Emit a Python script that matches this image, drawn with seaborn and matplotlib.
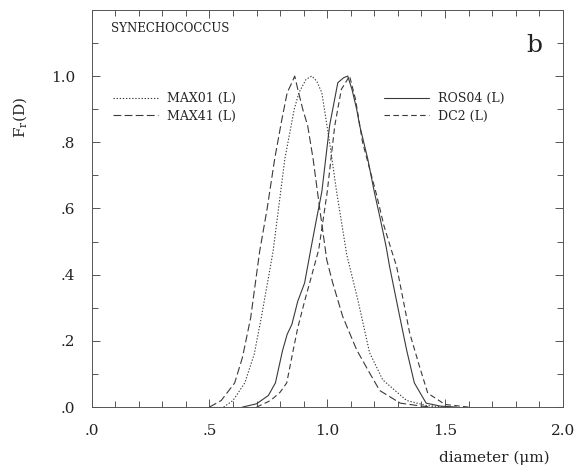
import numpy as np
import pandas as pd
import matplotlib
matplotlib.use("Agg")
import matplotlib.pyplot as plt
import seaborn as sns
from matplotlib.ticker import MultipleLocator, FixedLocator
from matplotlib.lines import Line2D

# ---- data ----
max41_x = [0.50, 0.55, 0.607, 0.64, 0.675, 0.713, 0.745, 0.777, 0.805, 0.83, 0.85, 0.862, 0.875,
           0.896, 0.917, 0.94, 0.968, 0.998, 1.023, 1.066, 1.125, 1.18, 1.223, 1.31, 1.40, 1.45]
max41_y = [0.0, 0.02, 0.073, 0.15, 0.27, 0.47, 0.6, 0.75, 0.86, 0.95, 0.98, 1.0, 0.96,
           0.9, 0.85, 0.75, 0.6, 0.445, 0.376, 0.273, 0.173, 0.103, 0.05, 0.012, 0.003, 0.0]

max01_x = [0.56, 0.60, 0.65, 0.69, 0.72, 0.77, 0.82, 0.86, 0.88, 0.91, 0.934, 0.955, 0.977,
           1.01, 1.04, 1.083, 1.13, 1.18, 1.236, 1.337, 1.42, 1.50]
max01_y = [0.0, 0.02, 0.073, 0.16, 0.27, 0.47, 0.75, 0.9, 0.95, 0.99, 1.0, 0.985, 0.95,
           0.8, 0.65, 0.46, 0.324, 0.164, 0.082, 0.02, 0.005, 0.0]

ros04_x = [0.64, 0.70, 0.75, 0.78, 0.81, 0.83, 0.85, 0.875, 0.904, 0.93, 0.955, 0.977, 1.01,
           1.045, 1.07, 1.087, 1.105, 1.125, 1.138, 1.172, 1.2, 1.223, 1.25, 1.265, 1.308,
           1.337, 1.37, 1.42, 1.48, 1.55]
ros04_y = [0.0, 0.01, 0.035, 0.073, 0.17, 0.22, 0.25, 0.32, 0.375, 0.476, 0.57, 0.65, 0.85,
           0.98, 0.995, 1.0, 0.96, 0.9, 0.85, 0.75, 0.65, 0.576, 0.485, 0.424, 0.273,
           0.173, 0.073, 0.012, 0.003, 0.0]

dc2_x = [0.70, 0.76, 0.80, 0.828, 0.855, 0.875, 0.904, 0.935, 0.964, 1.0, 1.032, 1.06, 1.095,
         1.12, 1.15, 1.18, 1.21, 1.24, 1.27, 1.295, 1.35, 1.393, 1.427, 1.5, 1.6]
dc2_y = [0.0, 0.02, 0.045, 0.073, 0.17, 0.24, 0.32, 0.4, 0.476, 0.65, 0.85, 0.96, 1.0,
         0.93, 0.8, 0.72, 0.64, 0.55, 0.48, 0.424, 0.224, 0.12, 0.042, 0.008, 0.0]

x_ticks = [0.0, 0.5, 1.0, 1.5, 2.0]
x_ticklabels = [".0", ".5", "1.0", "1.5", "2.0"]
y_ticks = [0.0, 0.2, 0.4, 0.6, 0.8, 1.0]
y_ticklabels = [".0", ".2", ".4", ".6", ".8", "1.0"]

sns.set_theme(style="ticks")
plt.rcParams["font.family"] = ["DejaVu Serif", "DejaVu Sans"]

fig = plt.figure(figsize=(5.88, 4.69), dpi=100)
ax = fig.add_axes([0.156, 0.132, 0.801, 0.847])

col = "#3a3a3a"
lw = 0.8
styles = {
    "MAX01 (L)": (0, (1.2, 1.6)),
    "MAX41 (L)": (0, (7, 3)),
    "ROS04 (L)": "-",
    "DC2 (L)": (0, (5, 3)),
}
series = [("MAX01 (L)", max01_x, max01_y), ("MAX41 (L)", max41_x, max41_y),
          ("ROS04 (L)", ros04_x, ros04_y), ("DC2 (L)", dc2_x, dc2_y)]
for name, xs, ys in series:
    df = pd.DataFrame({"x": xs, "y": ys})
    sns.lineplot(data=df, x="x", y="y", ax=ax, color=col, linewidth=lw,
                 linestyle=styles[name], estimator=None, sort=False)

ax.set_xlim(0, 2.0)
ax.set_ylim(0, 1.2)
ax.xaxis.set_major_locator(FixedLocator(x_ticks))
ax.set_xticklabels(x_ticklabels)
ax.xaxis.set_minor_locator(MultipleLocator(0.1))
ax.yaxis.set_major_locator(FixedLocator(y_ticks))
ax.set_yticklabels(y_ticklabels)
ax.yaxis.set_minor_locator(MultipleLocator(0.1))
ax.tick_params(which="both", direction="in", top=True, right=True, color="#555555", width=0.7)
ax.tick_params(which="major", length=6, labelsize=11, labelcolor="#222222")
ax.tick_params(which="minor", length=4)
ax.tick_params(axis="x", which="major", pad=12)
ax.tick_params(axis="y", which="major", pad=12)
for s in ax.spines.values():
    s.set_linewidth(0.7)
    s.set_color("#555555")

ax.set_xlabel("diameter (μm)", fontsize=11, color="#222222")
ax.xaxis.set_label_coords(0.855, -0.11)
ax.set_ylabel(r"F$_\mathregular{r}$(D)", fontsize=11, color="#222222")
ax.yaxis.set_label_coords(-0.13, 0.73)

ax.text(0.04, 0.97, "SYNECHOCOCCUS", transform=ax.transAxes, fontsize=8.5,
        va="top", ha="left", color="#222222")
ax.text(0.94, 0.91, "b", transform=ax.transAxes, fontsize=18,
        va="center", ha="center", color="#222222")

h_left = [Line2D([], [], color=col, lw=lw, linestyle=styles[n]) for n in ["MAX01 (L)", "MAX41 (L)"]]
h_right = [Line2D([], [], color=col, lw=lw, linestyle=styles[n]) for n in ["ROS04 (L)", "DC2 (L)"]]
kw = dict(frameon=False, fontsize=9, handlelength=3.6, handletextpad=0.7,
          labelspacing=0.35, borderaxespad=0)
leg1 = ax.legend(h_left, ["MAX01 (L)", "MAX41 (L)"], loc="upper left",
                 bbox_to_anchor=(0.035, 0.805), **kw)
ax.add_artist(leg1)
ax.legend(h_right, ["ROS04 (L)", "DC2 (L)"], loc="upper left",
          bbox_to_anchor=(0.61, 0.805), **kw)

fig.savefig("out.png", dpi=100)
